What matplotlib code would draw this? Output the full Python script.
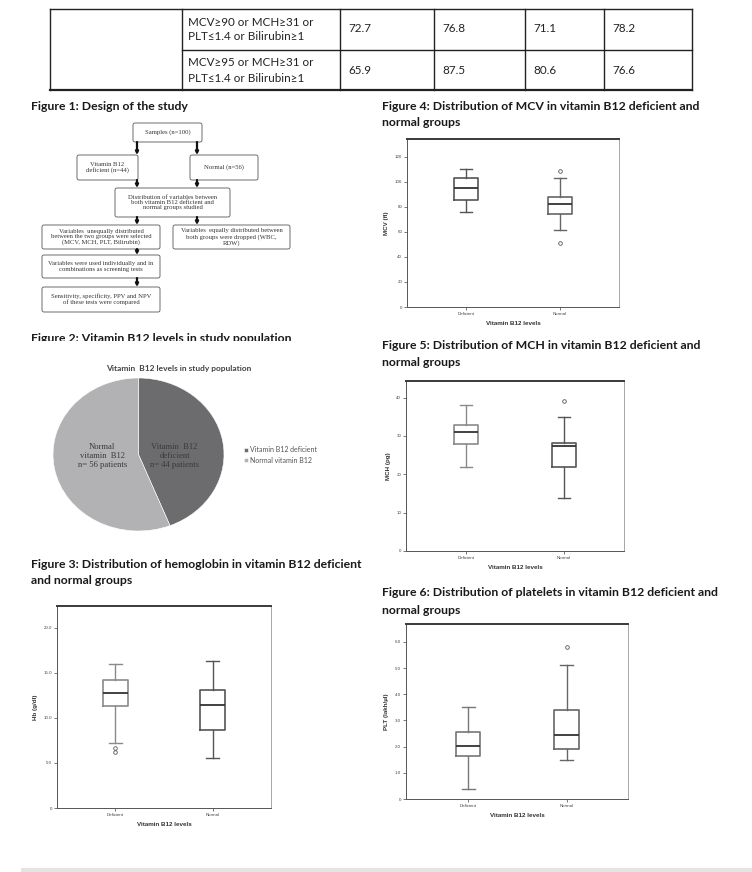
import matplotlib
matplotlib.use('Agg')
import matplotlib.pyplot as plt
from matplotlib.patches import Rectangle, FancyBboxPatch

# ---- data ----
criteria = [("MCV\u226590 or MCH\u226531 or", "PLT\u22641.4 or Bilirubin\u22651"),
            ("MCV\u226595 or MCH\u226531 or", "PLT\u22641.4 or Bilirubin\u22651")]
sensitivity = [72.7, 65.9]
specificity = [76.8, 87.5]
ppv = [71.1, 80.6]
npv = [78.2, 76.6]

pie_groups = ['Vitamin B12 deficient', 'Normal vitamin B12']
pie_counts = [44, 56]
pie_labels = ['Vitamin  B12\ndeficient\nn= 44 patients', 'Normal\nvitamin  B12\nn= 56 patients']
pie_colors = ['#6c6c6e', '#b2b2b4']

# box stats: whislo, q1, med, q3, whishi
hb_deficient = [7.2, 11.3, 12.7, 14.2, 16.0]
hb_normal = [5.6, 8.7, 11.4, 13.1, 16.3]
hb_deficient_out = [6.6, 6.2]
hb_normal_out = []

mcv_deficient = [75.7, 85.3, 94.9, 102.7, 110.0]
mcv_normal = [61.6, 74.4, 82.4, 87.5, 102.9]
mcv_deficient_out = []
mcv_normal_out = [108.8, 50.7]

mch_deficient = [21.9, 27.8, 31.1, 32.8, 38.0]
mch_normal = [13.9, 21.9, 27.3, 28.2, 35.0]
mch_deficient_out = []
mch_normal_out = [39.0]

plt_deficient = [0.40, 1.66, 2.02, 2.54, 3.51]
plt_normal = [1.49, 1.90, 2.46, 3.41, 5.10]
plt_deficient_out = []
plt_normal_out = [5.81]

groups = ['Deficient', 'Normal']

flow_boxes = [
    ((133, 123, 202, 142), "Samples (n=100)"),
    ((77, 155, 138, 180), "Vitamin B12\ndeficient (n=44)"),
    ((190, 155, 258, 180), "Normal (n=56)"),
    ((115, 188, 230, 217), "Distribution of variables between\nboth vitamin B12 deficient and\nnormal groups studied"),
    ((42, 225, 160, 249), "Variables  unequally distributed\nbetween the two groups were selected\n(MCV, MCH, PLT, Bilirubin)"),
    ((173, 225, 290, 249), "Variables  equally distributed between\nboth groups were dropped (WBC,\nRDW)"),
    ((42, 255, 160, 278), "Variables were used individually and in\ncombinations as screening tests"),
    ((42, 287, 160, 312), "Sensitivity, specificity, PPV and NPV\nof these tests were compared"),
]
flow_arrows = [(137, 142, 155), (197, 142, 155), (137, 180, 188), (197, 180, 188),
               (137, 217, 225), (197, 217, 225), (137, 249, 255), (137, 278, 287)]

W, H = 752, 872
fig = plt.figure(figsize=(7.52, 8.72), dpi=100)
HEAD = ['Lato', 'DejaVu Sans']
SANS = ['Liberation Sans', 'DejaVu Sans']
SERIF = ['Liberation Serif', 'DejaVu Serif']


def rect(x0, y0, x1, y1):
    return [x0 / W, 1 - y1 / H, (x1 - x0) / W, (y1 - y0) / H]


def ftext(x, y, s, **kw):
    return fig.text(x / W, 1 - y / H, s, **kw)


# page layer in pixel coordinates
page = fig.add_axes([0, 0, 1, 1])
page.set_xlim(0, W)
page.set_ylim(H, 0)
page.axis('off')

# ---- table fragment ----
cols = [50, 182, 340, 434, 525, 604, 692]
rows = [9, 50, 90]
for y in rows:
    page.plot([cols[0] if y != rows[1] else cols[1], cols[-1]], [y, y], color='#222', lw=1.0 if y != rows[-1] else 1.6)
for x in cols:
    page.plot([x, x], [rows[0], rows[-1]], color='#222', lw=1.0)
for i, (l1, l2) in enumerate(criteria):
    y0 = rows[i]
    page.text(188, y0 + 13, l1, fontsize=8.4, family=HEAD, color='#222', va='center')
    page.text(188, y0 + 28, l2, fontsize=8.4, family=HEAD, color='#222', va='center')
    for j, v in enumerate([sensitivity[i], specificity[i], ppv[i], npv[i]]):
        page.text(cols[j + 2] + 8, y0 + 20, f"{v:.1f}", fontsize=8.4, family=HEAD, color='#222', va='center')

# ---- headings ----
hk = dict(fontsize=8.8, family=HEAD, fontweight='bold', color='#1a1a1a', va='center')
ftext(31, 107, "Figure 1: Design of the study", **hk)
ftext(31, 338, "Figure 2: Vitamin B12 levels in study population", **hk)
ftext(31, 564, "Figure 3: Distribution of hemoglobin in vitamin B12 deficient", **hk)
ftext(31, 580, "and normal groups", **hk)
ftext(382, 107, "Figure 4: Distribution of MCV in vitamin B12 deficient and", **hk)
ftext(382, 123, "normal groups", **hk)
ftext(382, 345, "Figure 5: Distribution of MCH in vitamin B12 deficient and", **hk)
ftext(382, 362, "normal groups", **hk)
ftext(382, 593, "Figure 6: Distribution of platelets in vitamin B12 deficient and", **hk)
ftext(382, 610, "normal groups", **hk)
# figure 2 heading is clipped at the bottom on the page
fig.patches.append(Rectangle((0, 1 - 352 / H), 0.45, 11 / H, transform=fig.transFigure,
                             facecolor='white', edgecolor='none', zorder=5))

# ---- flowchart ----
for (x0, y0, x1, y1), s in flow_boxes:
    page.add_patch(FancyBboxPatch((x0, y0), x1 - x0, y1 - y0, boxstyle='round,pad=0,rounding_size=2',
                                  facecolor='white', edgecolor='#555', lw=0.6))
    page.text((x0 + x1) / 2, (y0 + y1) / 2, s, fontsize=4.8, family=SERIF, color='#333',
              ha='center', va='center', linespacing=1.05)
for x, ya, yb in flow_arrows:
    page.annotate('', xy=(x, yb), xytext=(x, ya),
                  arrowprops=dict(arrowstyle='-|>', lw=1.6, color='#111', mutation_scale=4,
                                  shrinkA=0, shrinkB=0))

# ---- pie ----
pax = fig.add_axes(rect(53, 378, 224, 531))
wedges, texts = pax.pie(pie_counts, colors=pie_colors, startangle=90, counterclock=False,
                        labels=pie_labels, labeldistance=0.43,
                        textprops=dict(fontsize=6.2, family=SERIF, color='#3a3a3a', linespacing=1.1),
                        wedgeprops=dict(edgecolor='white', linewidth=0.4))
for t in texts:
    t.set_ha('center')
    t.set_va('center')
    t.set_y(-0.02)
pax.set_aspect('auto')
pax.set_xlim(-1, 1)
pax.set_ylim(-1, 1)
ftext(179, 368, "Vitamin  B12 levels in study population", fontsize=6.0, family=HEAD,
      fontweight='bold', color='#444', ha='center', va='center')
fig.legend(wedges, pie_groups, loc='center left', bbox_to_anchor=(238 / W, 1 - 455 / H),
           frameon=False, prop=dict(family=HEAD, size=5.0), labelcolor='#555',
           handlelength=0.6, handleheight=0.6, handletextpad=0.3, labelspacing=0.5)


# ---- box plot panels ----
def box_panel(px, xlim, ymax, ticks, ticklabels, ylabel, deficient, normal,
              deficient_out, normal_out, colors):
    ax = fig.add_axes(rect(*px))
    keys = ['whislo', 'q1', 'med', 'q3', 'whishi']
    stats = [dict(zip(keys, deficient), fliers=deficient_out, label=groups[0]),
             dict(zip(keys, normal), fliers=normal_out, label=groups[1])]
    art = ax.bxp(stats, positions=[1, 2], widths=0.25, capwidths=0.13, showfliers=True,
                 medianprops=dict(color='#333', lw=1.3),
                 flierprops=dict(marker='o', markersize=2.6, markerfacecolor='none',
                                 markeredgecolor='#555', markeredgewidth=0.6))
    for i, c in enumerate(colors):
        art['boxes'][i].set(color=c, lw=1.2)
        for k in (2 * i, 2 * i + 1):
            art['whiskers'][k].set(color=c, lw=1.0)
            art['caps'][k].set(color=c, lw=1.0)
    ax.set_xlim(*xlim)
    ax.set_ylim(0, ymax)
    ax.set_yticks(ticks)
    ax.set_yticklabels(ticklabels)
    for side, c, lw in (('top', '#3a3a3a', 1.4), ('left', '#555', 0.7),
                        ('bottom', '#555', 0.7), ('right', '#999', 0.6)):
        ax.spines[side].set(color=c, linewidth=lw)
    ax.tick_params(length=2, width=0.5, labelsize=3.2, pad=1.5, colors='#444')
    for lab in ax.get_xticklabels() + ax.get_yticklabels():
        lab.set_family(SANS)
    ax.set_xlabel('Vitamin B12 levels', fontsize=4.5, family=SANS, fontweight='bold',
                  color='#333', labelpad=4)
    ax.set_ylabel(ylabel, fontsize=4.5, family=SANS, fontweight='bold', color='#333', labelpad=4)
    return ax


box_panel((57, 606, 271, 808), (0.4, 2.6), 22.4, [0, 5, 10, 15, 20],
          ['0', '5.0', '10.0', '15.0', '20.0'], 'Hb (g/dl)',
          hb_deficient, hb_normal, hb_deficient_out, hb_normal_out, ['#8a8a8a', '#555'])
box_panel((407, 139, 619, 307), (0.37, 2.63), 134, [0, 20, 40, 60, 80, 100, 120],
          ['0', '20', '40', '60', '80', '100', '120'], 'MCV (fl)',
          mcv_deficient, mcv_normal, mcv_deficient_out, mcv_normal_out, ['#555', '#666'])
box_panel((406, 381, 624, 551), (0.39, 2.61), 44.3, [0, 10, 20, 30, 40],
          ['0', '10', '20', '30', '40'], 'MCH (pg)',
          mch_deficient, mch_normal, mch_deficient_out, mch_normal_out, ['#8a8a8a', '#555'])
box_panel((406, 624, 628, 799), (0.37, 2.62), 6.68, [0, 1, 2, 3, 4, 5, 6],
          ['0', '1.0', '2.0', '3.0', '4.0', '5.0', '6.0'], 'PLT (lakh/\u00b5l)',
          plt_deficient, plt_normal, plt_deficient_out, plt_normal_out, ['#777', '#666'])

# faint rule at the bottom of the page
page.plot([21, 752], [870, 870], color='#e4e4e4', lw=3, solid_capstyle='butt')

fig.savefig('out.png', dpi=100, facecolor='white')
